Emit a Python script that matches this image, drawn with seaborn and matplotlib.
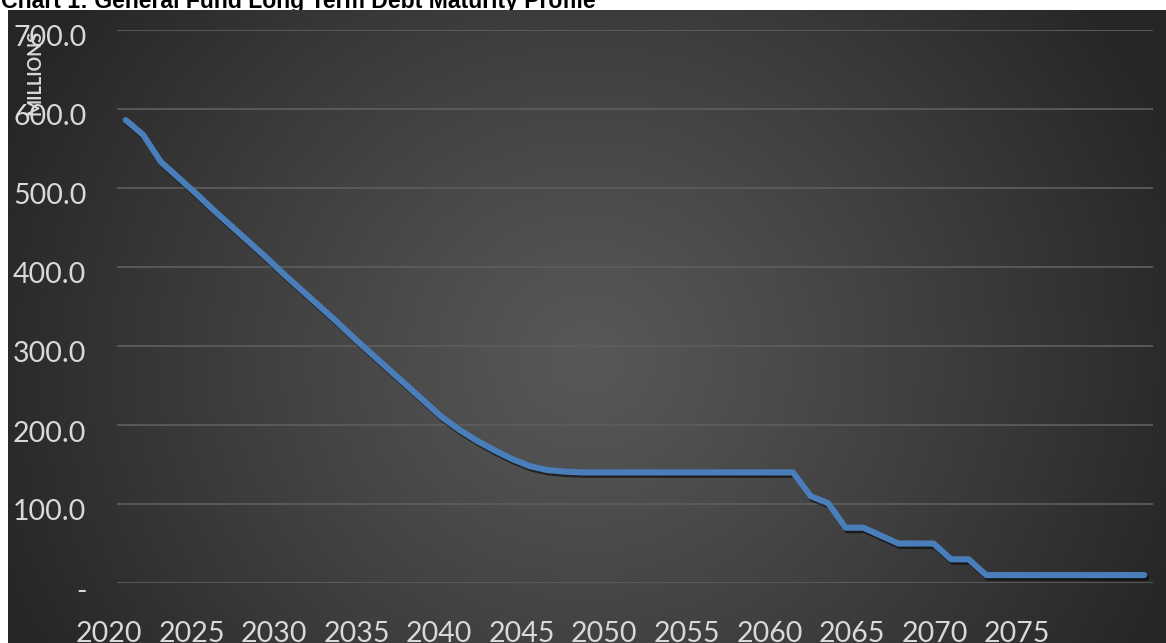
import numpy as np
import pandas as pd
import matplotlib
matplotlib.use("Agg")
import matplotlib.pyplot as plt
import seaborn as sns
from matplotlib import patheffects as pe
from matplotlib.transforms import ScaledTranslation

# ---------------- data ----------------
years = list(range(2020, 2079))
debt_millions = [
    586, 567, 533, 513, 493, 472, 452, 432, 412, 391,
    371, 351, 331, 310, 290, 270, 250, 230, 210, 194,
    180, 168, 157, 148, 143, 141,
    140, 140, 140, 140, 140, 140, 140, 140, 140, 140, 140, 140, 140,
    110, 101, 70, 70, 60, 50, 50, 50, 30, 30,
    10, 10, 10, 10, 10, 10, 10, 10, 10, 10,
]
x_ticks = [2020, 2025, 2030, 2035, 2040, 2045, 2050, 2055, 2060, 2065, 2070, 2075]
y_ticks = [0, 100, 200, 300, 400, 500, 600, 700]
y_tick_labels = ["-", "100.0", "200.0", "300.0", "400.0", "500.0", "600.0", "700.0"]
title = "Chart 1: General Fund Long Term Debt Maturity Profile"
y_label = "MILLIONS"

df = pd.DataFrame({"Year": years, "Debt": debt_millions})

# ---------------- figure ----------------
sns.set_style("dark")
plt.rcParams["font.family"] = ["Lato", "DejaVu Sans"]

W, H = 1166, 643
fig = plt.figure(figsize=(W / 100, H / 100), dpi=100, facecolor="white")

# dark radial-gradient chart area
bg_left, bg_top = 8, 10
bg_ax = fig.add_axes([bg_left / W, 0, 1 - bg_left / W, (H - bg_top) / H], zorder=-1)
gx = np.linspace(0, 1, 600)
gy = np.linspace(0, 1, 330)
GX, GY = np.meshgrid(gx, gy)
d = np.sqrt(((GX - 0.5) / 0.55) ** 2 + ((GY - 0.55) / 0.95) ** 2)
d = np.clip(d, 0, 1)
c_center, c_edge = 0x58 / 255, 0x26 / 255
val = c_center + (c_edge - c_center) * d ** 1.1
img = np.dstack([val, val, val])
bg_ax.imshow(img, aspect="auto", extent=[0, 1, 0, 1], origin="upper")
bg_ax.set_axis_off()

# title (partly hidden at the top, as in reference)
fig.text(1 / W, 1 - 8 / H, title, fontsize=16.6, fontweight="bold",
         family=["Liberation Sans", "DejaVu Sans"], color="black",
         ha="left", va="baseline", zorder=-2)

# main axes (plot area)
ax_left, ax_right, ax_top, ax_bottom = 117, 1153, 30, 583
ax = fig.add_axes([ax_left / W, (H - ax_bottom) / H,
                   (ax_right - ax_left) / W, (ax_bottom - ax_top) / H], zorder=1)
ax.set_facecolor("none")
ax.patch.set_alpha(0)

sns.lineplot(data=df, x="Year", y="Debt", ax=ax, color="#4a7ebb", linewidth=4.4,
             solid_capstyle="round", solid_joinstyle="round",
             path_effects=[pe.SimpleLineShadow(offset=(1.2, -1.8), shadow_color="black", alpha=0.55),
                           pe.Normal()])

ax.set_xlim(2019.5, 2078.5)
ax.set_ylim(0, 700)
ax.set_xticks([])
ax.set_yticks(y_ticks)
ax.set_yticklabels(y_tick_labels)
ax.grid(True, axis="y", color="#5c5c5c", linewidth=1.3)
ax.grid(False, axis="x")
for s in ax.spines.values():
    s.set_visible(False)
ax.tick_params(axis="both", length=0, colors="#d9d9d9", labelsize=20.5)
ax.tick_params(axis="y", pad=22)
ax.set_xlabel("")
ax.set_ylabel("")
for lab in ax.get_yticklabels():
    lab.set_transform(lab.get_transform() + ScaledTranslation(0, -6 / 100, fig.dpi_scale_trans))

# category-label axis: in the reference the year labels are spaced on their own scale
lab_left, lab_right = 100, 1153
lab_ax = fig.add_axes([lab_left / W, (H - ax_bottom) / H,
                       (lab_right - lab_left) / W, (ax_bottom - ax_top) / H], zorder=0)
lab_ax.patch.set_alpha(0)
px_per_year = 16.51
lab_ax.set_xlim(2020 - 9 / px_per_year, 2020 + (lab_right - lab_left - 9) / px_per_year)
lab_ax.set_xticks(x_ticks)
lab_ax.set_xticklabels([str(t) for t in x_ticks])
lab_ax.set_yticks([])
lab_ax.grid(False)
for s in lab_ax.spines.values():
    s.set_visible(False)
lab_ax.tick_params(axis="x", length=0, colors="#d9d9d9", labelsize=20.5, pad=27)

# rotated unit label overlapping the tick labels
fig.text(35 / W, 1 - 72 / H, y_label, rotation=90, fontsize=13, fontweight="bold",
         color="#d9d9d9", ha="center", va="center")

fig.savefig("out.png", dpi=100, facecolor="white")
